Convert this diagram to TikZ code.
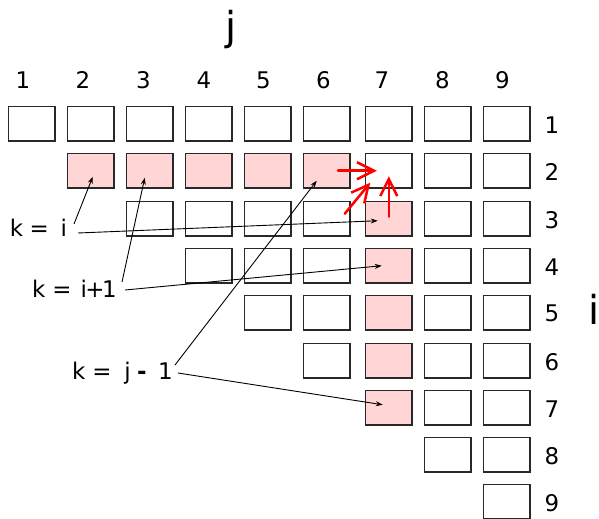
\documentclass[tikz,border=0pt]{standalone}
\usepackage{fontspec}
\setmainfont{DejaVu Sans}
\usetikzlibrary{arrows.meta,calc}
\definecolor{pinkfill}{RGB}{255,213,213}
\definecolor{cellline}{RGB}{40,40,40}

\begin{document}
\begin{tikzpicture}[x=1bp,y=-1bp,
  cell/.style={draw=cellline, line width=1.3bp, minimum width=46.5bp,
    minimum height=34.5bp, inner sep=0, fill=white},
  hot/.style={cell, fill=pinkfill},
  num/.style={font=\fontsize{23}{23}\selectfont, inner sep=0},
  klabel/.style={font=\fontsize{23}{23}\selectfont, inner sep=0, anchor=base west},
  pointer/.style={line width=0.9bp, -{Stealth[length=7bp,width=5bp]}},
  flow/.style={red, line width=2.5bp, line cap=round,
    -{Straight Barb[length=17bp,width=17bp]}},
]
\useasboundingbox (0,0) rectangle (599,519);

% upper triangular grid of cells: row r holds columns r..9 (row 1 holds all)
\foreach \r/\y in {1/123.75,2/170.75,3/218.75,4/265.75,5/312.75,6/360.75,7/407.75,8/454.75,9/501.75}{
  \foreach \c/\x in {1/31.75,2/90.75,3/149.75,4/208.75,5/267.75,6/326.75,7/388.75,8/447.75,9/506.75}{
    \pgfmathtruncatemacro\skip{(\c<\r) ? 1 : 0}
    \pgfmathtruncatemacro\hl{((\r==2) && (\c>=2) && (\c<=6)) || ((\c==7) && (\r>=3) && (\r<=7)) ? 1 : 0}
    \ifnum\skip=0
      \ifnum\hl=1
        \node[hot] (b\r\c) at (\x,\y) {};
      \else
        \node[cell] (b\r\c) at (\x,\y) {};
      \fi
    \fi
  }
  \node[num] (row\r) at (552,\y+1) {\r};
}

% column indices
\foreach \c/\x in {1/23,2/83,3/143.5,4/204,5/263.5,6/323.5,7/382,8/442.5,9/502.5}{
  \node[num] (col\c) at (\x,80) {\c};
}

% axis names
\node[font=\fontsize{40}{40}\selectfont, inner sep=0, anchor=base] (jaxis) at (231,41) {j};
\node[font=\fontsize{40}{40}\selectfont, inner sep=0, anchor=base] (iaxis) at (594,324) {i};

% the three index choices for k
\node[klabel] (lki)  at (9.6,236.5) {k\kern6.6bp=\kern11.7bp i};
\node[klabel] (lki1) at (31.9,297)  {k\kern7bp=\kern9bp i\kern-1.5bp+\kern-2.5bp1};
\node[klabel] (lkj)  at (71.9,379)  {k\kern7bp=\kern12.7bp j\kern6.5bp{\bfseries -}\kern11.4bp1};

\draw[pointer] ($(lki.base west)+(64.4,-12.5)$)  -- ($(b22.center)+(2,6)$);
\draw[pointer] ($(lki.base west)+(68.4,-3.5)$)   -- ($(b37.center)+(-11,2)$);
\draw[pointer] ($(lki1.base west)+(90.1,-15)$)   -- ($(b23.center)+(-5,7)$);
\draw[pointer] ($(lki1.base west)+(93.1,-7)$)    -- ($(b47.center)+(-7,0)$);
\draw[pointer] ($(lkj.base west)+(103.1,-14)$)   -- ($(b26.center)+(-10,10)$);
\draw[pointer] ($(lkj.base west)+(106.1,-6)$)    -- ($(b77.center)+(-6,-3)$);

% dependencies of cell (2,7)
\draw[flow] ($(b26.center)+(11.25,0)$) -- ($(b27.center)+(-12,0)$);
\draw[flow] ($(b37.center)+(-44,-5)$)   -- ($(b27.center)+(-18.5,12)$);
\draw[flow] ($(b37.center)+(0,-2)$)     -- ($(b27.center)+(0,5.5)$);
\end{tikzpicture}
\end{document}
